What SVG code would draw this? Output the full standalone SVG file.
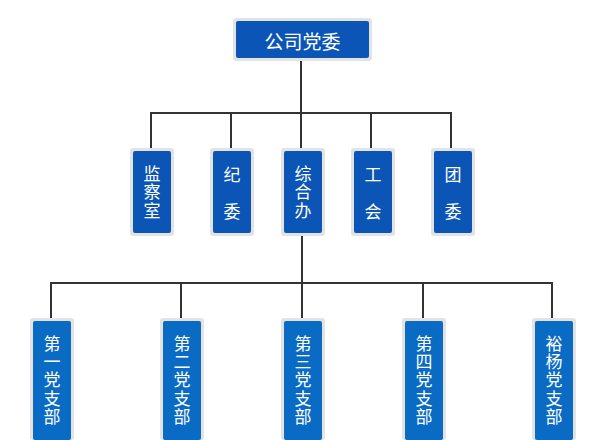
<svg xmlns="http://www.w3.org/2000/svg" width="607" height="440" viewBox="0 0 607 440">
<style>
.sh{fill:#e3e3e3}
.b1{fill:#0b55b6}
.b3{fill:#0a6bc4}
.t{fill:#fff;font-family:"Noto Sans CJK SC","Liberation Sans",sans-serif;font-size:17px;text-anchor:middle;dominant-baseline:central}
.v{writing-mode:vertical-rl;letter-spacing:1.3px}
.tt{font-size:19px}
.ln{stroke:#333;stroke-width:2;fill:none}
</style>
<rect width="607" height="440" fill="#fff"/>
<g id="connectors">
<path class="ln" d="M301 61V113M151 113H452M151 112V148M231 112V148M301 112V148M371 112V148M451 112V148"/>
<path class="ln" d="M302 236V283M51 283H553M51 282V318M181 282V318M302 282V318M423 282V318M552 282V318"/>
</g>
<g id="n0"><rect class="sh" x="233" y="18" width="139" height="43" rx="3"/><rect class="b1" x="236" y="21" width="133" height="37" rx="2"/><text class="t tt" x="302.5" y="40">公司党委</text></g>
<g id="n1"><rect class="sh" x="130" y="148" width="44" height="88" rx="3"/><rect class="b1" x="133" y="151" width="38" height="82" rx="2"/><text class="t v" x="152" y="192.5">监察室</text></g>
<g id="n2"><rect class="sh" x="210" y="148" width="44" height="88" rx="3"/><rect class="b1" x="213" y="151" width="38" height="82" rx="2"/><text class="t" x="232" y="173.5">纪</text><text class="t" x="232" y="210.5">委</text></g>
<g id="n3"><rect class="sh" x="281" y="148" width="44" height="88" rx="3"/><rect class="b1" x="284" y="151" width="38" height="82" rx="2"/><text class="t v" x="303" y="192.5">综合办</text></g>
<g id="n4"><rect class="sh" x="351" y="148" width="44" height="88" rx="3"/><rect class="b1" x="354" y="151" width="38" height="82" rx="2"/><text class="t" x="373" y="173.5">工</text><text class="t" x="373" y="210.5">会</text></g>
<g id="n5"><rect class="sh" x="431" y="148" width="44" height="88" rx="3"/><rect class="b1" x="434" y="151" width="38" height="82" rx="2"/><text class="t" x="453" y="173.5">团</text><text class="t" x="453" y="210.5">委</text></g>
<g id="n6"><rect class="sh" x="30" y="318" width="44" height="122" rx="3"/><rect class="b3" x="33" y="321" width="38" height="119" rx="2"/><text class="t v" x="52" y="380.5">第一党支部</text></g>
<g id="n7"><rect class="sh" x="160" y="318" width="44" height="122" rx="3"/><rect class="b3" x="163" y="321" width="38" height="119" rx="2"/><text class="t v" x="182" y="380.5">第二党支部</text></g>
<g id="n8"><rect class="sh" x="281" y="318" width="44" height="122" rx="3"/><rect class="b3" x="284" y="321" width="38" height="119" rx="2"/><text class="t v" x="303" y="380.5">第三党支部</text></g>
<g id="n9"><rect class="sh" x="402" y="318" width="44" height="122" rx="3"/><rect class="b3" x="405" y="321" width="38" height="119" rx="2"/><text class="t v" x="424" y="380.5">第四党支部</text></g>
<g id="n10"><rect class="sh" x="532" y="318" width="44" height="122" rx="3"/><rect class="b3" x="535" y="321" width="38" height="119" rx="2"/><text class="t v" x="554" y="380.5">裕杨党支部</text></g>
</svg>
